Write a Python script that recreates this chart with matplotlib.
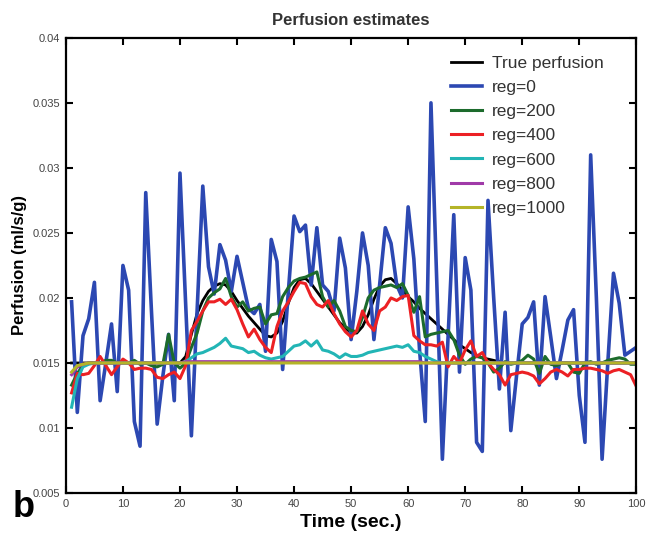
import matplotlib
matplotlib.use("Agg")
import matplotlib.pyplot as plt

# time axis (seconds)
time = list(range(1, 101))

# true perfusion curve
true_perf = ([0.0150] * 20 +
             [0.0155, 0.0172, 0.0188, 0.0198, 0.0205, 0.0209, 0.0211, 0.0210, 0.0205, 0.0198,
              0.0192, 0.0186, 0.0181, 0.0176, 0.0171, 0.0170, 0.0173, 0.0182, 0.0196, 0.0208,
              0.0214, 0.0215, 0.0211, 0.0205, 0.0199, 0.0193, 0.0187, 0.0181, 0.0177, 0.0173,
              0.0173, 0.0178, 0.0187, 0.0199, 0.0209, 0.0214, 0.0215, 0.0211, 0.0206, 0.0201,
              0.0197, 0.0192, 0.0188, 0.0184, 0.0180, 0.0176, 0.0172, 0.0168, 0.0164, 0.0161,
              0.0158, 0.0156, 0.0154, 0.0153, 0.0152, 0.0151] +
             [0.0150] * 24)

reg0 = [0.0197, 0.0112, 0.0171, 0.0184, 0.0212, 0.0121, 0.0150, 0.0180, 0.0128, 0.0225,
        0.0206, 0.0105, 0.0086, 0.0281, 0.0190, 0.0103, 0.0140, 0.0172, 0.0121, 0.0296,
        0.0195, 0.0094, 0.0190, 0.0286, 0.0224, 0.0203, 0.0241, 0.0229, 0.0205, 0.0232,
        0.0212, 0.0192, 0.0188, 0.0195, 0.0159, 0.0245, 0.0228, 0.0145, 0.0205, 0.0263,
        0.0251, 0.0256, 0.0210, 0.0254, 0.0210, 0.0205, 0.0190, 0.0246, 0.0223, 0.0168,
        0.0205, 0.0250, 0.0225, 0.0168, 0.0210, 0.0254, 0.0242, 0.0210, 0.0200, 0.0270,
        0.0230, 0.0160, 0.0105, 0.0350, 0.0215, 0.0076, 0.0170, 0.0264, 0.0143, 0.0231,
        0.0206, 0.0089, 0.0082, 0.0275, 0.0200, 0.0130, 0.0189, 0.0098, 0.0140, 0.0180,
        0.0185, 0.0197, 0.0133, 0.0201, 0.0170, 0.0138, 0.0160, 0.0183, 0.0191, 0.0125,
        0.0089, 0.0310, 0.0200, 0.0076, 0.0150, 0.0219, 0.0196, 0.0156, 0.0159, 0.0162]

reg200 = [0.0133, 0.0142, 0.0148, 0.0150, 0.0150, 0.0150, 0.0152, 0.0152, 0.0150, 0.0151,
          0.0150, 0.0152, 0.0149, 0.0150, 0.0148, 0.0147, 0.0149, 0.0172, 0.0150, 0.0146,
          0.0150, 0.0162, 0.0173, 0.0190, 0.0200, 0.0204, 0.0207, 0.0215, 0.0201, 0.0193,
          0.0197, 0.0190, 0.0192, 0.0193, 0.0180, 0.0187, 0.0188, 0.0201, 0.0208, 0.0213,
          0.0215, 0.0216, 0.0218, 0.0220, 0.0201, 0.0193, 0.0198, 0.0190, 0.0178, 0.0175,
          0.0174, 0.0185, 0.0200, 0.0206, 0.0208, 0.0209, 0.0210, 0.0208, 0.0211, 0.0202,
          0.0189, 0.0201, 0.0170, 0.0172, 0.0173, 0.0174, 0.0175, 0.0168, 0.0156, 0.0149,
          0.0153, 0.0155, 0.0154, 0.0150, 0.0143, 0.0146, 0.0151, 0.0149, 0.0150, 0.0152,
          0.0156, 0.0153, 0.0142, 0.0155, 0.0149, 0.0148, 0.0150, 0.0150, 0.0143, 0.0142,
          0.0150, 0.0151, 0.0149, 0.0150, 0.0152, 0.0153, 0.0154, 0.0153, 0.0149, 0.0149]

reg400 = [0.0127, 0.0142, 0.0141, 0.0142, 0.0148, 0.0155, 0.0148, 0.0141, 0.0147, 0.0153,
          0.0150, 0.0145, 0.0146, 0.0146, 0.0145, 0.0139, 0.0138, 0.0141, 0.0143, 0.0138,
          0.0148, 0.0175, 0.0182, 0.0190, 0.0197, 0.0197, 0.0199, 0.0195, 0.0199, 0.0191,
          0.0180, 0.0170, 0.0176, 0.0168, 0.0162, 0.0158, 0.0178, 0.0190, 0.0197, 0.0205,
          0.0212, 0.0211, 0.0201, 0.0195, 0.0193, 0.0198, 0.0188, 0.0180, 0.0174, 0.0170,
          0.0175, 0.0190, 0.0180, 0.0175, 0.0190, 0.0193, 0.0200, 0.0198, 0.0201, 0.0202,
          0.0171, 0.0167, 0.0164, 0.0164, 0.0163, 0.0166, 0.0147, 0.0155, 0.0150, 0.0160,
          0.0167, 0.0155, 0.0158, 0.0150, 0.0145, 0.0141, 0.0133, 0.0141, 0.0142, 0.0143,
          0.0142, 0.0140, 0.0134, 0.0138, 0.0143, 0.0145, 0.0143, 0.0140, 0.0145, 0.0145,
          0.0146, 0.0146, 0.0145, 0.0144, 0.0142, 0.0144, 0.0145, 0.0143, 0.0141, 0.0132]

reg600 = ([0.0116, 0.0138, 0.0147, 0.0149] + [0.0150] * 16 +
          [0.0151, 0.0154, 0.0157, 0.0158, 0.0160, 0.0162, 0.0165, 0.0169, 0.0163, 0.0162,
           0.0161, 0.0158, 0.0159, 0.0156, 0.0154, 0.0153, 0.0154, 0.0155, 0.0159, 0.0163,
           0.0164, 0.0167, 0.0163, 0.0167, 0.0160, 0.0159, 0.0157, 0.0154, 0.0157, 0.0155,
           0.0155, 0.0156, 0.0158, 0.0159, 0.0160, 0.0161, 0.0162, 0.0163, 0.0162, 0.0164,
           0.0159, 0.0158, 0.0155, 0.0153, 0.0151] +
          [0.0150] * 35)

reg800 = [0.0141, 0.0147, 0.0149] + [0.0150] * 17 + [0.0151] * 42 + [0.0150] * 38

reg1000 = [0.0143, 0.0148, 0.0149] + [0.0150] * 97

series = [
    (true_perf, "True perfusion", "black", 2.0),
    (reg0, "reg=0", "#2c48b2", 2.6),
    (reg200, "reg=200", "#1c6b2c", 2.2),
    (reg400, "reg=400", "#ec2024", 2.2),
    (reg600, "reg=600", "#22b5b5", 2.2),
    (reg800, "reg=800", "#a03aa8", 2.2),
    (reg1000, "reg=1000", "#b4b428", 2.2),
]

plt.rcParams['font.family'] = ['Liberation Sans Narrow', 'Liberation Sans', 'DejaVu Sans']

fig = plt.figure(figsize=(6.46, 5.33), dpi=100)
ax = fig.add_axes([0.102, 0.075, 0.883, 0.854])

for vals, label, color, lw in series:
    ax.plot(time, vals, color=color, linewidth=lw, label=label)

ax.set_xlim(0, 100)
ax.set_ylim(0.005, 0.04)
ax.set_xticks(range(0, 101, 10))
ax.set_yticks([0.005, 0.01, 0.015, 0.02, 0.025, 0.03, 0.035, 0.04])
ax.set_yticklabels(["0.005", "0.01", "0.015", "0.02", "0.025", "0.03", "0.035", "0.04"])

ax.tick_params(direction="in", top=True, right=True, length=5, width=1.5,
               labelsize=8, labelcolor="#444444", pad=4)
for sp in ax.spines.values():
    sp.set_linewidth(1.6)

ax.set_title("Perfusion estimates", fontsize=12, fontweight="bold", color="#333333", pad=9)
ax.set_xlabel("Time (sec.)", fontsize=14, fontweight="bold", labelpad=4)
ax.set_ylabel("Perfusion (ml/s/g)", fontsize=12, fontweight="bold", labelpad=4)

leg = ax.legend(loc="upper left", bbox_to_anchor=(0.66, 0.98), frameon=False,
                prop={"family": ["Liberation Sans", "DejaVu Sans"], "size": 12.5},
                handlelength=1.8, handletextpad=0.55, labelspacing=0.52, borderpad=0)
for t in leg.get_texts():
    t.set_color("#333333")

fig.text(0.02, 0.03, "b", fontsize=26, fontweight="bold",
         family=["Liberation Sans", "DejaVu Sans"])

fig.savefig("out.png", dpi=100)
